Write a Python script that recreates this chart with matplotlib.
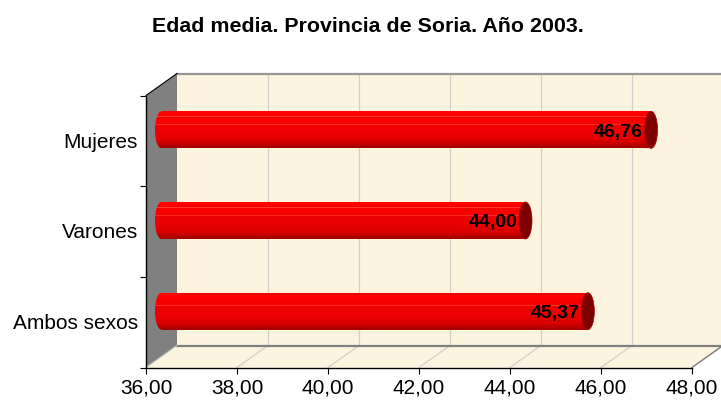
#!/usr/bin/env python3
"""
Edad media. Provincia de Soria. Año 2003.
3D-look horizontal cylinder bars, drawn by hand on a flat axes.
"""

import matplotlib
matplotlib.use('Agg')
import matplotlib.pyplot as plt
import numpy as np
from matplotlib.patches import Ellipse, Polygon, Rectangle
from matplotlib.transforms import ScaledTranslation

plt.rcParams['font.family'] = 'Liberation Sans'

# Data
categories = ['Ambos sexos', 'Varones', 'Mujeres']
values = [45.37, 44.00, 46.76]
value_labels = ['45,37', '44,00', '46,76']
x_ticks = [36, 38, 40, 42, 44, 46, 48]
x_tick_labels = ['36,00', '38,00', '40,00', '42,00', '44,00', '46,00', '48,00']

W, H = 721, 402
fig = plt.figure(figsize=(W / 100, H / 100), dpi=100, facecolor='white')
# front plane of the fake 3D box
ax = fig.add_axes([146 / W, (H - 368.5) / H, (692 - 146) / W, (368 - 96) / H])
ax.set_xlim(36, 48)
ax.set_ylim(0, 3)
ax.patch.set_visible(False)

# depth of the box in data units (31 px right, 22 px up)
dx = 31 / (546 / 12)
dy = 22 / (272 / 3)
wall_color = '#FDF4DF'

# back wall and floor
ax.add_patch(Rectangle((36 + dx, dy), 12, 3, fc=wall_color, ec='none', clip_on=False, zorder=1))
ax.add_patch(Polygon([(36, 0), (36 + dx, dy), (48 + dx, dy), (48, 0)], fc=wall_color, ec='none',
                     clip_on=False, zorder=1))
# left wall
ax.add_patch(Polygon([(36, 0), (36 + dx, dy), (36 + dx, 3 + dy), (36, 3)], fc='#808080', ec='none',
                     clip_on=False, zorder=2))

# gridlines on wall and floor
for t in x_ticks[1:]:
    ax.plot([t + dx, t + dx], [dy, 3 + dy], color='#D2D0C8', lw=0.9, clip_on=False, zorder=2)
    ax.plot([t, t + dx], [0, dy], color='#D2D0C8', lw=0.9, clip_on=False, zorder=2)

# box edges
ax.plot([36 + dx, 48 + dx], [3 + dy, 3 + dy], color='#969696', lw=1.6, clip_on=False, zorder=3)
ax.plot([36 + dx, 48 + dx], [dy, dy], color='#808080', lw=1.6, clip_on=False, zorder=3)
ax.plot([36, 36 + dx], [3, 3 + dy], color='black', lw=0.8, clip_on=False, zorder=3)
ax.plot([36, 36 + dx], [0, dy], color='#C8C8C8', lw=0.8, clip_on=False, zorder=3)
ax.plot([48, 48 + dx], [0, dy], color='#808080', lw=1, clip_on=False, zorder=3)

# cylinder shading, top to bottom
shades = ['#FF0000'] * 5 + ['#FF3A2A'] + ['#F80000'] * 7 + ['#FF2A20'] + ['#EE0000'] * 9 + \
         ['#E60000'] * 5 + ['#DA0000'] * 4 + ['#C80000'] * 2 + ['#B80000'] * 2 + ['#A80000'] * 2
bar_h = 37 / (272 / 3)
cap_w = 13 / (546 / 12)
band_h = bar_h / len(shades)

y_pos = np.arange(len(categories)) + 0.5
for y, v, lab in zip(y_pos, values, value_labels):
    yc = y + dy / 2
    start = 36 + dx / 2
    end = v + dx / 2
    clip = Ellipse((start, yc), cap_w, bar_h, fc='none', ec='none', clip_on=False)
    ax.add_patch(clip)
    for i, c in enumerate(shades):
        by = yc + bar_h / 2 - (i + 0.5) * band_h
        ax.barh(by, end - start, left=start, height=band_h * 1.05, color=c, lw=0, zorder=4, clip_on=False)
        cap = ax.barh(by, cap_w / 2, left=start - cap_w / 2, height=band_h * 1.05, color=c, lw=0, zorder=4)
        cap[0].set_clip_path(clip)
    ax.add_patch(Ellipse((end, yc), cap_w, bar_h, fc='#7F0000', ec='#A00000', lw=0.5, clip_on=False, zorder=5))
    ax.annotate(lab, xy=(end, yc), xytext=(-6, -1), textcoords='offset points', ha='right', va='center',
                fontsize=14, fontweight='bold', color='black', zorder=6, annotation_clip=False)

# axes
for s in ['top', 'right']:
    ax.spines[s].set_visible(False)
ax.spines['left'].set_zorder(3)
ax.spines['bottom'].set_zorder(3)
ax.spines['left'].set_linewidth(1)
ax.spines['bottom'].set_linewidth(1)
ax.set_xticks(x_ticks)
ax.set_xticklabels(x_tick_labels, fontsize=15)
ax.set_yticks(y_pos)
ax.set_yticklabels(categories, fontsize=15)
ax.set_yticks(np.arange(4), minor=True)
ax.tick_params(axis='y', which='major', length=0, pad=6)
ax.tick_params(axis='y', which='minor', length=4, width=0.8)
ax.tick_params(axis='x', length=4, width=0.8, pad=3)

# category labels sit a little higher than the tick centre
for tl in ax.get_yticklabels():
    tl.set_transform(tl.get_transform() + ScaledTranslation(0, 0.015, fig.dpi_scale_trans))

fig.text(368 / W, (H - 27) / H, 'Edad media. Provincia de Soria. Año 2003.', ha='center', va='center',
         fontsize=15.4, fontweight='bold')

plt.savefig('out.png', dpi=100)
